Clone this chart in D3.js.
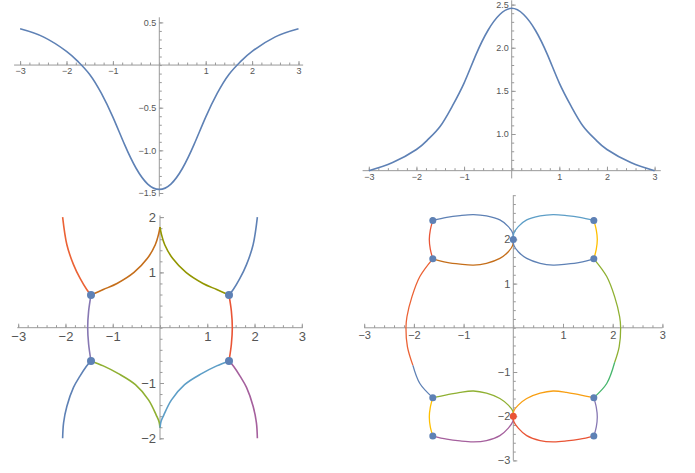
<!DOCTYPE html>
<html>
<head>
<meta charset="utf-8">
<script src="https://cdn.jsdelivr.net/npm/d3@7"></script>
<style>
  body { margin: 0; background: #fff; }
  svg { display: block; font-family: "Liberation Sans", Arial, sans-serif; }
</style>
</head>
<body>
<div id="chart"></div>
<script>
// values
var xs = [-3, -2.5, -2, -1.75, -1.5, -1.25, -1, -0.75, -0.5, -0.25, 0,
  0.25, 0.5, 0.75, 1, 1.25, 1.5, 1.75, 2, 2.5, 3];
var fVals = [0.425, 0.33, 0.16, 0.04, -0.11, -0.33, -0.61, -0.93, -1.21, -1.395, -1.457,
  -1.395, -1.21, -0.93, -0.61, -0.33, -0.11, 0.04, 0.16, 0.33, 0.425];
var gVals = [0.575, 0.67, 0.82, 0.94, 1.09, 1.32, 1.59, 1.92, 2.20, 2.385, 2.457,
  2.385, 2.20, 1.92, 1.59, 1.32, 1.09, 0.94, 0.82, 0.67, 0.575];

// bottom left curves
var blCurves = [
  [[-2.06, 2.0], [-1.97, 1.50], [-1.83, 1.14], [-1.69, 0.89], [-1.55, 0.69], [-1.46, 0.59]],
  [[-1.46, 0.59], [-1.20, 0.69], [-0.91, 0.80], [-0.55, 1.00], [-0.27, 1.25], [-0.10, 1.50], [-0.03, 1.69], [0, 1.82]],
  [[1.46, 0.59], [1.20, 0.69], [0.91, 0.80], [0.55, 1.00], [0.27, 1.25], [0.10, 1.50], [0.03, 1.69], [0, 1.82]],
  [[2.06, 2.0], [1.97, 1.50], [1.83, 1.14], [1.69, 0.89], [1.55, 0.69], [1.46, 0.59]],
  [[-1.46, 0.59], [-1.51, 0.30], [-1.53, 0], [-1.51, -0.30], [-1.46, -0.60]],
  [[1.46, 0.59], [1.51, 0.30], [1.53, 0], [1.51, -0.30], [1.46, -0.60]],
  [[-1.46, -0.60], [-1.56, -0.70], [-1.69, -0.87], [-1.83, -1.08], [-1.97, -1.42], [-2.04, -1.72], [-2.06, -2.0]],
  [[-1.46, -0.60], [-1.20, -0.69], [-0.88, -0.83], [-0.52, -1.03], [-0.24, -1.31], [-0.08, -1.58], [-0.02, -1.70], [0, -1.81]],
  [[1.46, -0.60], [1.20, -0.69], [0.88, -0.83], [0.52, -1.03], [0.24, -1.31], [0.08, -1.58], [0.02, -1.70], [0, -1.81]],
  [[1.46, -0.60], [1.56, -0.70], [1.69, -0.87], [1.83, -1.08], [1.97, -1.42], [2.04, -1.72], [2.06, -2.0]]
];
var blColors = ["#EB6235", "#C56E1A", "#929600", "#5E81B5", "#8778B3", "#E95536",
  "#5E81B5", "#8FB032", "#5D9EC7", "#A5609D"];
var blDots = [[-1.46, 0.59], [1.46, 0.59], [-1.46, -0.60], [1.46, -0.60]];

// bottom right curves
var brCurves = [
  [[-1.62, 2.43], [-1.34, 2.50], [-1.07, 2.54], [-0.80, 2.56], [-0.54, 2.53], [-0.27, 2.44], [-0.10, 2.29], [-0.01, 2.14], [0, 2]],
  [[-1.62, 1.56], [-1.34, 1.48], [-1.07, 1.44], [-0.80, 1.42], [-0.54, 1.46], [-0.27, 1.57], [-0.10, 1.72], [-0.01, 1.87], [0, 2]],
  [[-1.62, 2.43], [-1.67, 2.21], [-1.69, 2.0], [-1.67, 1.78], [-1.62, 1.56]],
  [[-1.62, 1.56], [-1.88, 1.16], [-2.04, 0.70], [-2.14, 0.25], [-2.16, 0], [-2.13, -0.43], [-2.02, -0.85]],
  [[-2.02, -0.85], [-1.88, -1.26], [-1.62, -1.58]],
  [[1.62, 2.43], [1.34, 2.50], [1.07, 2.54], [0.80, 2.56], [0.54, 2.53], [0.27, 2.44], [0.10, 2.29], [0.01, 2.14], [0, 2]],
  [[1.62, 1.56], [1.34, 1.48], [1.07, 1.44], [0.80, 1.42], [0.54, 1.46], [0.27, 1.57], [0.10, 1.72], [0.01, 1.87], [0, 2]],
  [[1.62, 2.43], [1.67, 2.21], [1.69, 2.0], [1.67, 1.78], [1.62, 1.56]],
  [[1.62, 1.56], [1.88, 1.16], [2.04, 0.70], [2.14, 0.25], [2.16, 0], [2.13, -0.43], [2.04, -0.78]],
  [[2.04, -0.78], [1.88, -1.26], [1.62, -1.58]],
  [[-1.62, -1.58], [-1.34, -1.52], [-1.07, -1.46], [-0.80, -1.43], [-0.54, -1.48], [-0.27, -1.60], [-0.10, -1.75], [-0.01, -1.88], [0, -2]],
  [[-1.62, -2.45], [-1.34, -2.52], [-1.07, -2.56], [-0.80, -2.58], [-0.54, -2.55], [-0.27, -2.44], [-0.10, -2.27], [-0.01, -2.12], [0, -2]],
  [[-1.62, -1.58], [-1.67, -1.80], [-1.69, -2.02], [-1.67, -2.24], [-1.62, -2.45]],
  [[1.62, -1.58], [1.34, -1.52], [1.07, -1.46], [0.80, -1.43], [0.54, -1.48], [0.27, -1.60], [0.10, -1.75], [0.01, -1.88], [0, -2]],
  [[1.62, -2.45], [1.34, -2.52], [1.07, -2.56], [0.80, -2.58], [0.54, -2.55], [0.27, -2.44], [0.10, -2.27], [0.01, -2.12], [0, -2]],
  [[1.62, -1.58], [1.67, -1.80], [1.69, -2.02], [1.67, -2.24], [1.62, -2.45]],
  [[-1.62, 2.43], [-1.635, 2.50]],
  [[1.62, 2.43], [1.635, 2.50]]
];
var brColors = ["#5E81B5", "#C56E1A", "#E95536", "#EB6235", "#5E81B5",
  "#5D9EC7", "#5E81B5", "#FFBF00", "#8FB032", "#47B66D",
  "#8FB032", "#A5609D", "#FFBF00", "#F89F13", "#E95536", "#8778B3",
  "#929600", "#A5609D"];
var brDots = [[-1.62, 2.43], [-1.62, 1.56], [1.62, 2.43], [1.62, 1.56],
  [-1.62, -1.58], [-1.62, -2.45], [1.62, -1.58], [1.62, -2.45], [0, 2], [0, -2]];
var brDotColors = ["#5E81B5", "#5E81B5", "#5E81B5", "#5E81B5",
  "#5E81B5", "#5E81B5", "#5E81B5", "#5E81B5", "#5E81B5", "#E95536"];

var xMajor = [-3, -2, -1, 1, 2, 3];
var tlYMajor = [0.5, -0.5, -1, -1.5];
var trYMajor = [1, 1.5, 2, 2.5];
var blYMajor = [-2, -1, 1, 2];
var brYMajor = [-3, -2, -1, 1, 2];

var svgWidth = 695;
var svgHeight = 473;

var svg = d3.select("#chart")
  .append("svg")
  .attr("width", svgWidth)
  .attr("height", svgHeight);

var axisColor = "#999";
var textColor = "#555";

function drawAxes(p) {
  var g = svg.append("g");
  var y0 = p.y(p.xAxisAt);

  // minor ticks
  g.append("g")
    .attr("transform", `translate(0, ${y0})`)
    .call(d3.axisBottom(p.x).tickValues(p.x.ticks(30)).tickSize(-2.5).tickFormat(""));
  g.append("g")
    .attr("transform", `translate(${p.x(0)}, 0)`)
    .call(d3.axisLeft(p.y).tickValues(p.yMinor).tickSize(-2.5).tickFormat(""));

  var xa = g.append("g")
    .attr("transform", `translate(0, ${y0})`)
    .call(d3.axisBottom(p.x).tickValues(xMajor).tickSize(-4).tickPadding(p.pad)
      .tickFormat(d3.format("d")));
  xa.selectAll("text").attr("font-size", p.font).attr("fill", textColor);

  var ya = g.append("g")
    .attr("transform", `translate(${p.x(0)}, 0)`)
    .call(d3.axisLeft(p.y).tickValues(p.yMajor).tickSize(-4).tickPadding(p.pad)
      .tickFormat(d3.format(p.yFmt)));
  ya.selectAll("text").attr("font-size", p.font).attr("fill", textColor);

  g.selectAll(".domain").remove();
  g.selectAll(".tick line").attr("stroke", axisColor);

  g.append("line")
    .attr("x1", p.x(p.xExt[0])).attr("x2", p.x(p.xExt[1]))
    .attr("y1", y0).attr("y2", y0)
    .attr("stroke", axisColor);
  g.append("line")
    .attr("x1", p.x(0)).attr("x2", p.x(0))
    .attr("y1", p.y(p.yExt[0])).attr("y2", p.y(p.yExt[1]))
    .attr("stroke", axisColor);
}

function lineFor(p, curve) {
  return d3.line()
    .x(d => p.x(d[0]))
    .y(d => p.y(d[1]))
    .curve(curve || d3.curveCatmullRom.alpha(0.5));
}

// top left
var tl = {
  x: d3.scaleLinear().domain([-3, 3]).range([20.1, 298.5]),
  y: d3.scaleLinear().domain([-1.5, 0.5]).range([193, 22.4]),
  xAxisAt: 0, xExt: [-3.13, 3.1], yExt: [-1.54, 0.56],
  yMajor: tlYMajor, yFmt: ".1f", font: 9, pad: 3
};
tl.yMinor = d3.range(-15, 6).map(d => d / 10);
drawAxes(tl);
svg.append("path")
  .attr("d", lineFor(tl, d3.curveNatural)(xs.map((d, i) => [d, fVals[i]])))
  .attr("fill", "none").attr("stroke", "#5E81B5").attr("stroke-width", 1.6);

// top right
var tr = {
  x: d3.scaleLinear().domain([-3, 3]).range([368.8, 654.6]),
  y: d3.scaleLinear().domain([1, 2.5]).range([134, 4.6]),
  xAxisAt: 0.575, xExt: [-3.13, 3.13], yExt: [0.485, 2.55],
  yMajor: trYMajor, yFmt: ".1f", font: 9, pad: 3
};
tr.yMinor = d3.range(6, 26).map(d => d / 10);
drawAxes(tr);
svg.append("path")
  .attr("d", lineFor(tr, d3.curveNatural)(xs.map((d, i) => [d, gVals[i]])))
  .attr("fill", "none").attr("stroke", "#5E81B5").attr("stroke-width", 1.6);

// bottom left
var bl = {
  x: d3.scaleLinear().domain([-3, 3]).range([18.2, 301.8]),
  y: d3.scaleLinear().domain([-2, 2]).range([438.3, 217.1]),
  xAxisAt: 0, xExt: [-3.02, 3.02], yExt: [-2.03, 2.03],
  yMajor: blYMajor, yFmt: "d", font: 13, pad: 4
};
bl.yMinor = d3.range(-10, 11).map(d => d / 5);
drawAxes(bl);
var blLine = lineFor(bl);
svg.append("g").selectAll("path")
  .data(blCurves)
  .enter()
  .append("path")
  .attr("d", blLine)
  .attr("fill", "none")
  .attr("stroke", (d, i) => blColors[i])
  .attr("stroke-width", 1.6);
svg.append("g").selectAll("circle")
  .data(blDots)
  .enter()
  .append("circle")
  .attr("cx", d => bl.x(d[0]))
  .attr("cy", d => bl.y(d[1]))
  .attr("r", 4)
  .attr("fill", "#5E81B5");

// bottom right
var br = {
  x: d3.scaleLinear().domain([-3, 3]).range([364.2, 662.4]),
  y: d3.scaleLinear().domain([-3, 3]).range([460.4, 195.2]),
  xAxisAt: 0, xExt: [-3, 3], yExt: [-3, 3],
  yMajor: brYMajor, yFmt: "d", font: 11, pad: 3
};
br.yMinor = d3.range(-15, 16).map(d => d / 5);
drawAxes(br);
var brLine = lineFor(br);
svg.append("g").selectAll("path")
  .data(brCurves)
  .enter()
  .append("path")
  .attr("d", brLine)
  .attr("fill", "none")
  .attr("stroke", (d, i) => brColors[i])
  .attr("stroke-width", 1.3);
svg.append("g").selectAll("circle")
  .data(brDots)
  .enter()
  .append("circle")
  .attr("cx", d => br.x(d[0]))
  .attr("cy", d => br.y(d[1]))
  .attr("r", 3.5)
  .attr("fill", (d, i) => brDotColors[i]);
</script>
</body>
</html>
